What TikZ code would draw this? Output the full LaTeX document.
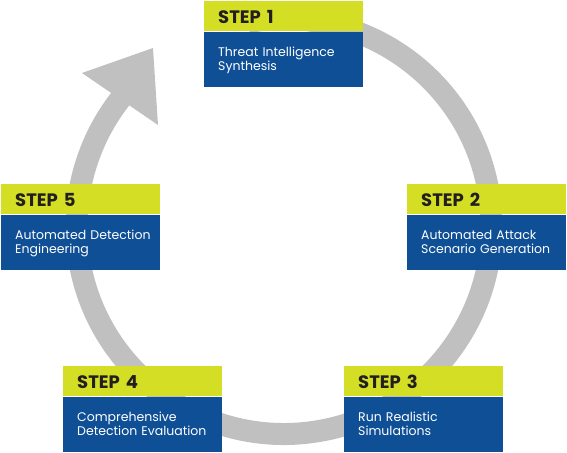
\documentclass[tikz,border=0pt]{standalone}
\usepackage{fontspec}
\setmainfont{Poppins}
\definecolor{ringgray}{HTML}{C0C0C0}
\definecolor{stepyellow}{HTML}{D3DE25}
\definecolor{stepblue}{HTML}{0F4F96}
\definecolor{steptext}{HTML}{231F20}
\begin{document}
\begin{tikzpicture}[x=1pt,y=1pt,
  head/.style={fill=stepyellow, anchor=north west, minimum width=159pt, minimum height=30pt,
    text width=131pt, inner xsep=14pt, inner ysep=0pt, align=left, text=steptext,
    font=\fontsize{18}{20}\selectfont\bfseries, text height=15pt, text depth=0pt},
  body/.style={fill=stepblue, anchor=north west, minimum width=159pt, minimum height=55pt,
    text width=131pt, inner xsep=14pt, inner ysep=0pt, align=left, text=white,
    font=\fontsize{12.5}{14}\selectfont, text depth=14pt},
  ring/.style={draw=ringgray, line width=22pt}
]
\useasboundingbox (0,0) rectangle (567,452);
% ring with arrow
\coordinate (c) at (284,225.5);
\draw[ring] (c) ++(100:207.5) arc[start angle=100, end angle=-220, radius=207.5];
\fill[ringgray] (82,379) -- (153,404) -- (158,327) -- cycle;
% steps
\node[head] (h1) at (204,451) {STEP 1};
\node[body] (b1) at (h1.south west) {Threat Intelligence\\Synthesis};
\node[head] (h2) at (407,268) {STEP 2};
\node[body] (b2) at (h2.south west) {\mbox{Automated Attack}\\\mbox{Scenario Generation}};
\node[head] (h3) at (344,86) {STEP 3};
\node[body] (b3) at (h3.south west) {Run Realistic\\Simulations};
\node[head] (h4) at (63,86) {STEP 4};
\node[body] (b4) at (h4.south west) {Comprehensive\\\mbox{Detection Evaluation}};
\node[head] (h5) at (1,268) {STEP 5};
\node[body] (b5) at (h5.south west) {\mbox{Automated Detection}\\Engineering};
\end{tikzpicture}
\end{document}
